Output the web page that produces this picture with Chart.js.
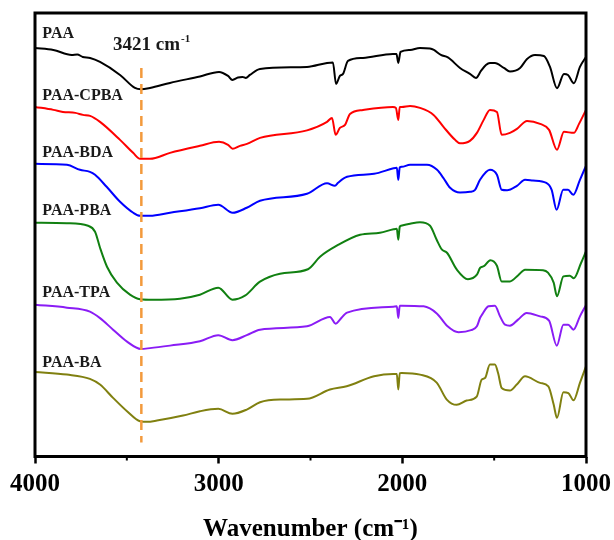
<!DOCTYPE html>
<html><head><meta charset="utf-8">
<script src="https://cdn.jsdelivr.net/npm/chart.js@4.4.1/dist/chart.umd.min.js"></script>
<style>html,body{margin:0;padding:0;background:#fff}</style>
</head><body>
<canvas id="c" width="614" height="540"></canvas>
<script>
// ---- data (transmittance in arbitrary units, curves offset vertically) ----
const seriesNames = ['PAA','PAA-CPBA','PAA-BDA','PAA-PBA','PAA-TPA','PAA-BA'];
const seriesColors = ['#000000','#ff0000','#0000ff','#118011','#8a1cf5','#808010'];

const wnPAA = [4000,3900,3800,3770,3740,3700,3646,3537,3456,3423,3374,3265,3102,2998,2949,2925,2895,2870,2852,2830,2775,2519,2410,2378,2361,2340,2323,2296,2214,2051,2032,2022,2010,1958,1904,1850,1828,1790,1752,1686,1632,1599,1572,1545,1523,1496,1447,1414,1359,1321,1278,1229,1196,1158,1120,1098,1066,1033,1000];
const tPAA  = [409,407,402,402.5,400,399,395,382,369,367.7,369,374,380.5,385,381,377,379.5,380,379,382,388,390,394,394.5,373,381,383,396,399,403,403,394,405,407,409,408.5,407,402,399.5,389,383,379,386,392,394,394,389,385.5,389,398,402,401,390,368.7,383,382,373.7,390,400];

const wnCPBA = [4000,3900,3848,3780,3739,3700,3646,3537,3466,3428,3374,3265,3102,2998,2949,2924,2884,2846,2775,2519,2410,2383,2363,2340,2312,2285,2214,2051,2035,2022,2014,2003,1958,1904,1830,1776,1713,1686,1632,1594,1557,1523,1485,1459,1414,1376,1321,1250,1201,1158,1120,1066,1038,1000];
const tCPBA  = [350,347,345,344,342,341,335,317,304,298,298,304,311,315,312,308,311,313,319,326.5,335,339,322,329,332,343,347,350,349,337,350,350,351,349,342,330,317,313.5,316,324,337,347,345,322,324,328,336,333,327,307,325,324,333,347];

const wnBDA = [4000,3826,3755,3701,3673,3610,3537,3465,3428,3374,3265,3102,3002,2924,2847,2775,2519,2410,2367,2350,2301,2154,2048,2030,2022,2014,2003,1958,1866,1811,1777,1740,1686,1632,1604,1577,1523,1485,1459,1430,1376,1332,1289,1216,1187,1160,1124,1098,1069,1033,1000];
const tBDA  = [293,292,287,285,282,270,255,244,241,241,244,248.5,252,244,249,256,263,273.5,271,274,280,283,288.5,289,277,289.5,290,292,292,287,279,269,264.3,265,267,277,287,282,267,266.5,271,277,276.3,274,267,247,267,267,262,277,291];

const wnPBA = [4000,3826,3711,3673,3646,3608,3554,3483,3428,3358,3211,3102,3002,2925,2857,2775,2666,2514,2448,2357,2230,2122,2048,2030,2022,2014,2007,1958,1904,1849,1813,1784,1757,1703,1643,1594,1576,1556,1521,1485,1459,1414,1369,1332,1234,1207,1176,1158,1123,1088,1066,1027,1000];
const tPBA  = [234,233.5,231,225,209,190,174,162,157.5,157,158,162,169,157,161,175,183,187.5,200,211,222,224,227.5,228,217,230,231,233,234.5,231,217,207,204,187,177.5,182,189,190.5,196.5,191,175.3,175.3,181.5,187,186.5,184,174,160.5,180.3,181,178.5,193.7,205.3];

const wnTPA = [4000,3826,3701,3646,3575,3499,3423,3374,3265,3102,3002,2925,2847,2775,2519,2394,2363,2340,2301,2049,2030,2022,2014,2003,1884,1811,1757,1694,1626,1594,1577,1566,1531,1496,1468,1441,1414,1370,1323,1250,1201,1159,1123,1097,1068,1033,1000];
const tTPA  = [152,149,145,138.5,127,115,107.7,108.5,111,115.3,121.5,116.5,121.5,127,130.3,139.7,133,137,144,150,150.3,138.7,151,151,150.3,143,131,124.5,126.5,130.3,138.7,142,150.5,151,140.3,132,131,137,143.7,140.3,136,111,132,132,127,140.3,151.5];

const wnBA = [4000,3826,3701,3646,3575,3499,3428,3390,3336,3194,3102,3002,2925,2847,2775,2666,2519,2394,2303,2154,2049,2030,2022,2014,2003,1904,1813,1758,1704,1650,1595,1568,1550,1523,1496,1478,1459,1414,1377,1332,1250,1205,1176,1158,1123,1096,1068,1033,1000];
const tBA  = [84.7,82,77.7,72,58.7,45.3,35.3,34.7,36,41,45.3,47.7,42.8,47,54.3,57,57.7,67,70.3,80.3,82.7,82.7,67,83.5,83.7,82,74,57,51.7,56,60,77,78.5,92,92,83,68.5,66,72,80.3,73.7,70.3,52,38.7,64.3,63.5,56.3,73.7,90.3];

const peakWn = [3421, 3421];
const peakY  = [389, 14];
const peakLabel = '3421 cm';
const peakLabelSup = '-1';

const xTicks = [4000,3500,3000,2500,2000,1500,1000];
const majorTicks = [4000,3000,2000,1000];
const minorTicks = [3500,2500,1500];
const xTitle = 'Wavenumber (cm\u207B\u00B9)';

// label anchors (data space)
const labelWn = 3960;
const labelY = [419,357,300,242,160,90];
const peakLabelWn = 3575, peakLabelY = 407;

// ---- build ----
const wnAll = [wnPAA,wnCPBA,wnBDA,wnPBA,wnTPA,wnBA];
const tAll  = [tPAA,tCPBA,tBDA,tPBA,tTPA,tBA];
const zip = (a,b)=>a.map((v,i)=>({x:v,y:b[i]}));

const datasets = seriesNames.map((n,i)=>({
  label:n, data:zip(wnAll[i],tAll[i]), borderColor:seriesColors[i],
  borderWidth:2, pointRadius:0, cubicInterpolationMode:'monotone', fill:false
}));
datasets.push({label:'peak', data:zip(peakWn,peakY), borderColor:'#f39a3c', borderWidth:2.5,
  borderDash:[10,6], pointRadius:0, fill:false, order:-1});

const SERIF = '"Liberation Serif","Times New Roman",serif';

const deco = {
  id:'deco',
  afterDatasetsDraw(chart){
    const {ctx, chartArea:a, scales:{x,y}} = chart;
    ctx.save();
    ctx.strokeStyle='#000'; ctx.lineWidth=3;
    ctx.strokeRect(a.left, a.top, a.right-a.left, a.bottom-a.top);
    ctx.lineWidth=2;
    minorTicks.forEach(v=>{const px=x.getPixelForValue(v);ctx.beginPath();ctx.moveTo(px,a.bottom);ctx.lineTo(px,a.bottom+4);ctx.stroke();});
    ctx.fillStyle='#1a1a1a'; ctx.textAlign='left'; ctx.textBaseline='alphabetic';
    ctx.font='bold 16px '+SERIF;
    seriesNames.forEach((n,i)=>ctx.fillText(n, x.getPixelForValue(labelWn), y.getPixelForValue(labelY[i])));
    ctx.font='bold 19px '+SERIF;
    const px=x.getPixelForValue(peakLabelWn), py=y.getPixelForValue(peakLabelY);
    ctx.fillText(peakLabel, px, py);
    const w=ctx.measureText(peakLabel).width;
    ctx.font='bold 11px '+SERIF;
    ctx.fillText(peakLabelSup, px+w+1, py-8);
    ctx.restore();
  }
};

new Chart(document.getElementById('c'), {
  type:'line',
  data:{datasets},
  options:{
    responsive:false, animation:false, devicePixelRatio:1,
    layout:{padding:{left:35,right:28,top:13,bottom:0}},
    plugins:{legend:{display:false}, tooltip:{enabled:false}},
    scales:{
      x:{type:'linear', reverse:true, min:1000, max:4000,
        afterBuildTicks(s){ s.ticks = xTicks.map(v=>({value:v})); },
        afterFit(s){ s.height = 83.5; s.paddingLeft = 0; s.paddingRight = 0; },
        ticks:{autoSkip:false, maxRotation:0, minRotation:0, padding:6, color:'#000',
          font:{family:SERIF, size:25, weight:'bold'},
          callback:(v)=> majorTicks.includes(v) ? String(v) : ''},
        grid:{drawOnChartArea:false, drawTicks:true, tickLength:7, tickWidth:2.5,
          tickColor:(c)=> (c.tick && majorTicks.includes(c.tick.value)) ? '#000' : 'rgba(0,0,0,0)'},
        border:{display:false},
        title:{display:true, text:xTitle, color:'#000',
          font:{family:SERIF, size:25, weight:'bold', lineHeight:0.85}, padding:{top:0,bottom:0}}
      },
      y:{display:false, min:0, max:444}
    }
  },
  plugins:[deco]
});
</script>
</body></html>
